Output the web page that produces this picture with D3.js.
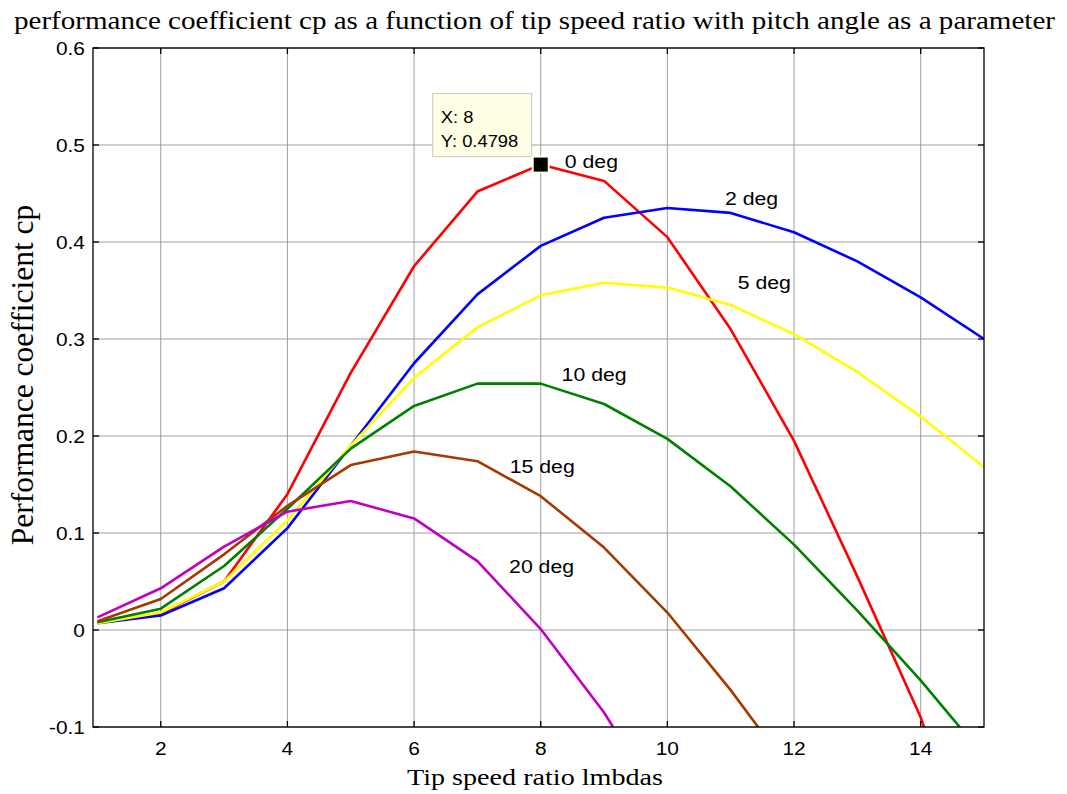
<!DOCTYPE html>
<html>
<head>
<meta charset="utf-8">
<script src="https://cdn.jsdelivr.net/npm/d3@7"></script>
<style>
  body { margin: 0; background: #fff; }
  svg { display: block; }
</style>
</head>
<body>
<div id="chart"></div>
<script>
const tsr = [1, 2, 3, 4, 5, 6, 7, 8, 9, 10, 11, 12, 13, 14, 15];

const cp0 = [0.008, 0.017, 0.05, 0.14, 0.265, 0.375, 0.452, 0.4798, 0.463, 0.405, 0.31, 0.195, 0.055, -0.09, -0.28];
const cp2 = [0.007, 0.015, 0.043, 0.105, 0.19, 0.275, 0.346, 0.396, 0.425, 0.435, 0.43, 0.41, 0.38, 0.343, 0.3];
const cp5 = [0.007, 0.018, 0.05, 0.113, 0.19, 0.26, 0.312, 0.345, 0.358, 0.353, 0.335, 0.305, 0.266, 0.22, 0.168];
const cp10 = [0.008, 0.022, 0.066, 0.125, 0.187, 0.231, 0.254, 0.254, 0.233, 0.197, 0.148, 0.088, 0.02, -0.052, -0.13];
const cp15 = [0.009, 0.032, 0.078, 0.128, 0.17, 0.184, 0.174, 0.138, 0.085, 0.018, -0.062, -0.15];
const cp20 = [0.013, 0.043, 0.086, 0.122, 0.133, 0.115, 0.071, 0.001, -0.085, -0.19];

const seriesNames = ['0 deg', '2 deg', '5 deg', '10 deg', '15 deg', '20 deg'];
const seriesColors = ['#ff0000', '#0000ff', '#ffff00', '#008000', '#a33a00', '#c000c0'];
const seriesValues = [cp0, cp2, cp5, cp10, cp15, cp20];
// where each label sits (left edge / baseline), in data units
const labelX = [8.38, 10.91, 11.11, 8.33, 7.51, 7.5];
const labelY = [0.476, 0.438, 0.352, 0.257, 0.162, 0.059];

const xTicks = [2, 4, 6, 8, 10, 12, 14];
const yTicks = [-0.1, 0, 0.1, 0.2, 0.3, 0.4, 0.5, 0.6];

const width = 1067, height = 794;
const margin = {top: 48, right: 83, bottom: 67, left: 93};

const sans = 'Liberation Sans, Arial, sans-serif';
const serif = 'Liberation Serif, Times New Roman, serif';

const svg = d3.select('#chart').append('svg')
    .attr('width', width)
    .attr('height', height);

const x = d3.scaleLinear()
    .domain([0.93, 15])
    .range([margin.left, width - margin.right]);
const y = d3.scaleLinear()
    .domain([-0.1, 0.6])
    .range([height - margin.bottom, margin.top]);

const x0 = x.range()[0], x1 = x.range()[1];
const y0 = y.range()[0], y1 = y.range()[1];

// the original picture is a bit stretched sideways, so the text gets a small x scale
const label = (g, px, py, sx) => g.attr('transform', 'translate(' + px + ',' + py + ') scale(' + sx + ',1)');

// grid
svg.append('g')
    .selectAll('line')
    .data(xTicks)
    .enter().append('line')
    .attr('x1', d => x(d)).attr('x2', d => x(d))
    .attr('y1', y1).attr('y2', y0)
    .attr('stroke', '#888')
    .attr('stroke-width', 0.8);
svg.append('g')
    .selectAll('line')
    .data(yTicks)
    .enter().append('line')
    .attr('x1', x0).attr('x2', x1)
    .attr('y1', d => y(d)).attr('y2', d => y(d))
    .attr('stroke', '#888')
    .attr('stroke-width', 0.8);

// curves
svg.append('clipPath').attr('id', 'plotclip')
    .append('rect')
    .attr('x', x0).attr('y', y1)
    .attr('width', x1 - x0).attr('height', y0 - y1);

const line = d3.line()
    .x((d, i) => x(tsr[i]))
    .y(d => y(d));

svg.append('g')
    .attr('clip-path', 'url(#plotclip)')
    .selectAll('path')
    .data(seriesValues)
    .enter().append('path')
    .attr('d', d => line(d))
    .attr('fill', 'none')
    .attr('stroke', (d, i) => seriesColors[i])
    .attr('stroke-width', 2.6)
    .attr('stroke-linejoin', 'round');

// series labels
svg.append('g')
    .selectAll('text')
    .data(seriesNames)
    .enter().append('text')
    .each(function (d, i) { label(d3.select(this), x(labelX[i]), y(labelY[i]), 1.15); })
    .attr('font-family', sans)
    .attr('font-size', 18.5)
    .attr('fill', '#000')
    .text(d => d);

// axes box with inward ticks (MATLAB style)
const tickLen = 6;
const axisG = svg.append('g').attr('stroke', '#000').attr('stroke-width', 1.3);
axisG.append('rect')
    .attr('x', x0).attr('y', y1)
    .attr('width', x1 - x0).attr('height', y0 - y1)
    .attr('fill', 'none');
xTicks.forEach(t => {
    axisG.append('line').attr('x1', x(t)).attr('x2', x(t)).attr('y1', y0).attr('y2', y0 - tickLen);
    axisG.append('line').attr('x1', x(t)).attr('x2', x(t)).attr('y1', y1).attr('y2', y1 + tickLen);
});
yTicks.forEach(t => {
    axisG.append('line').attr('x1', x0).attr('x2', x0 + tickLen).attr('y1', y(t)).attr('y2', y(t));
    axisG.append('line').attr('x1', x1).attr('x2', x1 - tickLen).attr('y1', y(t)).attr('y2', y(t));
});

// tick labels
svg.append('g')
    .selectAll('text')
    .data(xTicks)
    .enter().append('text')
    .each(function (d) { label(d3.select(this), x(d), y0 + 28, 1.1); })
    .attr('text-anchor', 'middle')
    .attr('font-family', sans)
    .attr('font-size', 19)
    .text(d => d);
svg.append('g')
    .selectAll('text')
    .data(yTicks)
    .enter().append('text')
    .each(function (d) { label(d3.select(this), x0 - 8, y(d) + 7, 1.1); })
    .attr('text-anchor', 'end')
    .attr('font-family', sans)
    .attr('font-size', 19)
    .text(d => d3.format('.1~f')(d).replace('−', '-'));

// titles
svg.append('text')
    .attr('x', 14).attr('y', 29)
    .attr('textLength', 1041)
    .attr('lengthAdjust', 'spacingAndGlyphs')
    .attr('font-family', serif)
    .attr('font-size', 26)
    .text('performance coefficient cp as a function of tip speed ratio with pitch angle as a parameter');
svg.append('text')
    .attr('x', 407).attr('y', 785)
    .attr('textLength', 256)
    .attr('lengthAdjust', 'spacingAndGlyphs')
    .attr('font-family', serif)
    .attr('font-size', 24)
    .text('Tip speed ratio lmbdas');
svg.append('text')
    .attr('transform', 'translate(33,375) rotate(-90)')
    .attr('text-anchor', 'middle')
    .attr('font-family', serif)
    .attr('font-size', 31.5)
    .text('Performance coefficient cp');

// data tip
const tipX = 8, tipY = cp0[7];
svg.append('rect')
    .attr('x', x(tipX) - 108).attr('y', y(tipY) - 71)
    .attr('width', 99).attr('height', 63)
    .attr('fill', '#ffffe6')
    .attr('stroke', '#c8c8c8')
    .attr('stroke-width', 1);
svg.append('text')
    .each(function () { label(d3.select(this), x(tipX) - 100, y(tipY) - 42, 1.08); })
    .attr('font-family', sans)
    .attr('font-size', 17)
    .text('X: ' + tipX);
svg.append('text')
    .each(function () { label(d3.select(this), x(tipX) - 100, y(tipY) - 18, 1.08); })
    .attr('font-family', sans)
    .attr('font-size', 17)
    .text('Y: ' + tipY);
svg.append('rect')
    .attr('x', x(tipX) - 9).attr('y', y(tipY) - 9)
    .attr('width', 18).attr('height', 18)
    .attr('fill', '#ffffe6');
svg.append('rect')
    .attr('x', x(tipX) - 7).attr('y', y(tipY) - 7)
    .attr('width', 14).attr('height', 14)
    .attr('fill', '#000');
</script>
</body>
</html>
